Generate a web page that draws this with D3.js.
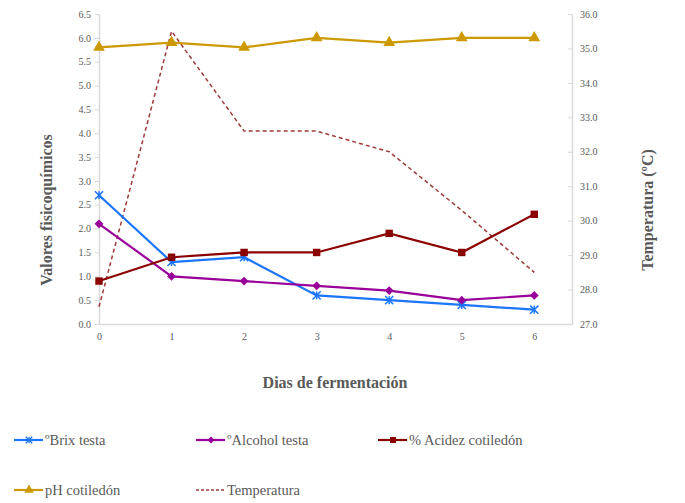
<!DOCTYPE html>
<html><head><meta charset="utf-8">
<script src="https://cdn.jsdelivr.net/npm/d3@7"></script>
<style>body{margin:0;background:#fff}svg{display:block}svg text{font-family:"Liberation Serif","Times New Roman",serif !important}</style>
</head><body><svg id="c" width="685" height="503" font-family="Liberation Serif"></svg>
<script>
const days = [0,1,2,3,4,5,6];
const brix = [2.7,1.3,1.4,0.6,0.5,0.4,0.3];
const alcohol = [2.1,1.0,0.9,0.8,0.7,0.5,0.6];
const acidez = [0.9,1.4,1.5,1.5,1.9,1.5,2.3];
const ph = [5.8,5.9,5.8,6.0,5.9,6.0,6.0];
const temperatura = [27.5,35.5,32.6,32.6,32.0,30.3,28.5];
const leftTicks = [0,0.5,1,1.5,2,2.5,3,3.5,4,4.5,5,5.5,6,6.5];
const rightTicks = [27,28,29,30,31,32,33,34,35,36];
const seriesNames = ["ºBrix testa","ºAlcohol testa","% Acidez cotiledón","pH cotiledón","Temperatura"];

const FONT = "'Liberation Serif','Times New Roman',serif";
const svg = d3.select("#c");
const x = d3.scaleLinear().domain([0,6.52]).range([99,572]);
const yL = d3.scaleLinear().domain([0,6.5]).range([324,14]);
const yR = d3.scaleLinear().domain([27,36]).range([324,14]);
const grey = "#595959", axisCol = "#d9d9d9";

const gL = svg.append("g").attr("transform","translate(99,0)")
  .call(d3.axisLeft(yL).tickValues(leftTicks).tickFormat(d3.format(".1f")).tickSize(4).tickSizeOuter(0));
const gR = svg.append("g").attr("transform","translate(572,0)")
  .call(d3.axisRight(yR).tickValues(rightTicks).tickFormat(d3.format(".1f")).tickSize(0).tickSizeOuter(0));
gR.selectAll(".tick line").attr("x1",-4).attr("x2",0);
const gX = svg.append("g").attr("transform","translate(0,324)")
  .call(d3.axisBottom(x).tickValues(days).tickFormat(d3.format("d")).tickSize(0).tickSizeOuter(0));
[gL,gR,gX].forEach(g=>{
  g.attr("font-family",FONT).attr("font-size",10);
  g.select(".domain").attr("stroke",axisCol).attr("stroke-width",1.5);
  g.selectAll(".tick line").attr("stroke",axisCol);
  g.selectAll("text").attr("fill",grey).attr("font-family",FONT).style("font-size","10px");
});
gL.selectAll("text").attr("x",-8);
gR.selectAll("text").attr("x",8);
gX.selectAll("text").attr("y",9);

function title(t, tr){
  svg.append("text").attr("transform",tr).attr("text-anchor","middle").attr("fill",grey)
    .attr("font-family",FONT).style("font-size","16px").style("font-weight","bold").text(t);
}
title("Dias de fermentación","translate(335,388)");
title("Valores fisicoquímicos","translate(52,210) rotate(-90)");
title("Temperatura (ºC)","translate(653,210) rotate(-90)");

function marker(g, type, color){
  if(type==="x"){
    g.append("path").attr("d",d3.symbol().type(d3.symbolX).size(45)()).attr("stroke",color).attr("stroke-width",1.5).attr("fill","none");
    g.append("path").attr("d","M0,-4V4").attr("stroke",color).attr("stroke-width",1.5);
  } else if(type==="diamond"){
    g.append("path").attr("d",d3.symbol().type(d3.symbolDiamond2).size(50)()).attr("fill",color);
  } else if(type==="square"){
    g.append("path").attr("d",d3.symbol().type(d3.symbolSquare).size(55)()).attr("fill",color);
  } else if(type==="tri"){
    g.append("path").attr("d",d3.symbol().type(d3.symbolTriangle).size(60)()).attr("fill",color);
  }
}

const series = [
  {vals:brix, color:"#1a75ff", m:"x"},
  {vals:alcohol, color:"#990099", m:"diamond"},
  {vals:acidez, color:"#8b0000", m:"square"},
  {vals:ph, color:"#cc9900", m:"tri"}
];
const lineR = d3.line().x((d,i)=>x(days[i])).y(d=>yR(d));
svg.append("path").attr("d",lineR(temperatura)).attr("fill","none").attr("stroke","#9e3a3a")
  .attr("stroke-width",1.5).attr("stroke-dasharray","4,3");

const lineL = d3.line().x((d,i)=>x(days[i])).y(d=>yL(d));
series.forEach(s=>{
  svg.append("path").attr("d",lineL(s.vals)).attr("fill","none").attr("stroke",s.color).attr("stroke-width",2.2);
  s.vals.forEach((v,i)=>{
    const g = svg.append("g").attr("transform",`translate(${x(days[i])},${yL(v)})`);
    marker(g,s.m,s.color);
  });
});

const leg = [
  {name:seriesNames[0], color:"#1a75ff", m:"x", x:14, y:440},
  {name:seriesNames[1], color:"#990099", m:"diamond", x:196, y:440},
  {name:seriesNames[2], color:"#8b0000", m:"square", x:378, y:440},
  {name:seriesNames[3], color:"#cc9900", m:"tri", x:14, y:490},
  {name:seriesNames[4], color:"#9e3a3a", m:"dash", x:196, y:490}
];
leg.forEach(l=>{
  const g = svg.append("g").attr("transform",`translate(${l.x},${l.y})`);
  if(l.m==="dash"){
    g.append("line").attr("x1",0).attr("x2",29).attr("stroke",l.color).attr("stroke-width",1.5).attr("stroke-dasharray","3,2");
  } else {
    g.append("line").attr("x1",0).attr("x2",29).attr("stroke",l.color).attr("stroke-width",2.2);
    const mg = g.append("g").attr("transform","translate(15,0) scale(0.8)");
    marker(mg,l.m,l.color);
  }
  g.append("text").attr("x",31).attr("y",5).attr("fill",grey).attr("font-family",FONT).style("font-size","14.5px").text(l.name);
});
</script></body></html>
